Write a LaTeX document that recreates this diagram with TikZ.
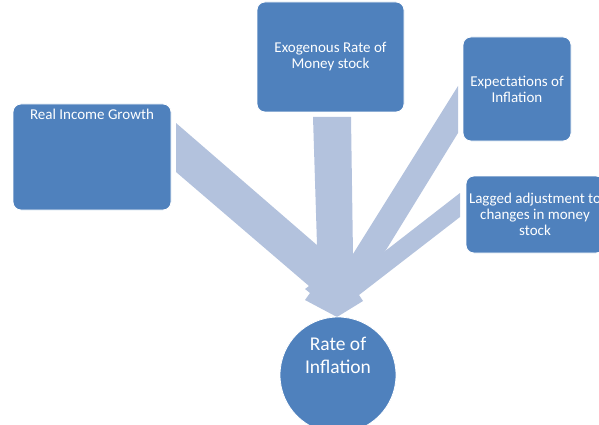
\documentclass[tikz,border=0pt]{standalone}
\usepackage{fontspec}
\setmainfont{Carlito}
\definecolor{boxblue}{RGB}{79,129,189}
\definecolor{arrowblue}{RGB}{179,194,221}
\begin{document}
\begin{tikzpicture}[x=1pt,y=-1pt,
  box/.style={rectangle, rounded corners=8pt, fill=boxblue, draw=white, line width=0.8pt,
    text=white, font=\fontsize{15}{16}\selectfont, align=center, inner sep=0pt},
  circ/.style={circle, fill=boxblue, draw=white, line width=0.8pt, minimum size=116pt, inner sep=0pt},
  circtext/.style={text=white, font=\fontsize{19.5}{22.7}\selectfont, align=center, inner sep=0pt},
  convarrow/.style={fill=arrowblue, draw=none}]
\useasboundingbox (0,0) rectangle (599,425);
% converging arrows
\coordinate (tip) at (337,317);
\fill[convarrow] (176,123) -- (176,172) -- (309,286) -- (305,289) -- (310,293) -- (305,300)
  -- (tip) -- (350,300) -- (340,265) -- cycle;
\fill[convarrow] (313,117) -- (351,117) -- (353,255) -- (345,300) -- (tip) -- (325,300) -- (317,245) -- cycle;
\fill[convarrow] (458,86) -- (458,133) -- (386,250) -- (345,300) -- (tip) -- (340,280) -- (353,254) -- cycle;
\fill[convarrow] (460,193) -- (460,217) -- (359,295) -- (363,301) -- (tip) -- (353,276) -- cycle;
% boxes
\node[box, minimum width=158pt, minimum height=106pt, text height=11pt, text depth=85pt]
  (real) at (92,157) {Real Income Growth};
\node[box, minimum width=147pt, minimum height=110pt] (exo) at (330.5,57) {Exogenous Rate of\\Money stock};
\node[box, minimum width=108pt, minimum height=104pt] (exp) at (517,89) {Expectations of\\Inflation};
\node[box, minimum width=138pt, minimum height=77pt] (lag) at (535,214.5) {Lagged adjustment to\\changes in money\\stock};
% target
\node[circ] (rate) at (338,375) {};
\node[circtext, anchor=base] at (338,373.3) {Rate of\\Inflation};
\end{tikzpicture}
\end{document}
